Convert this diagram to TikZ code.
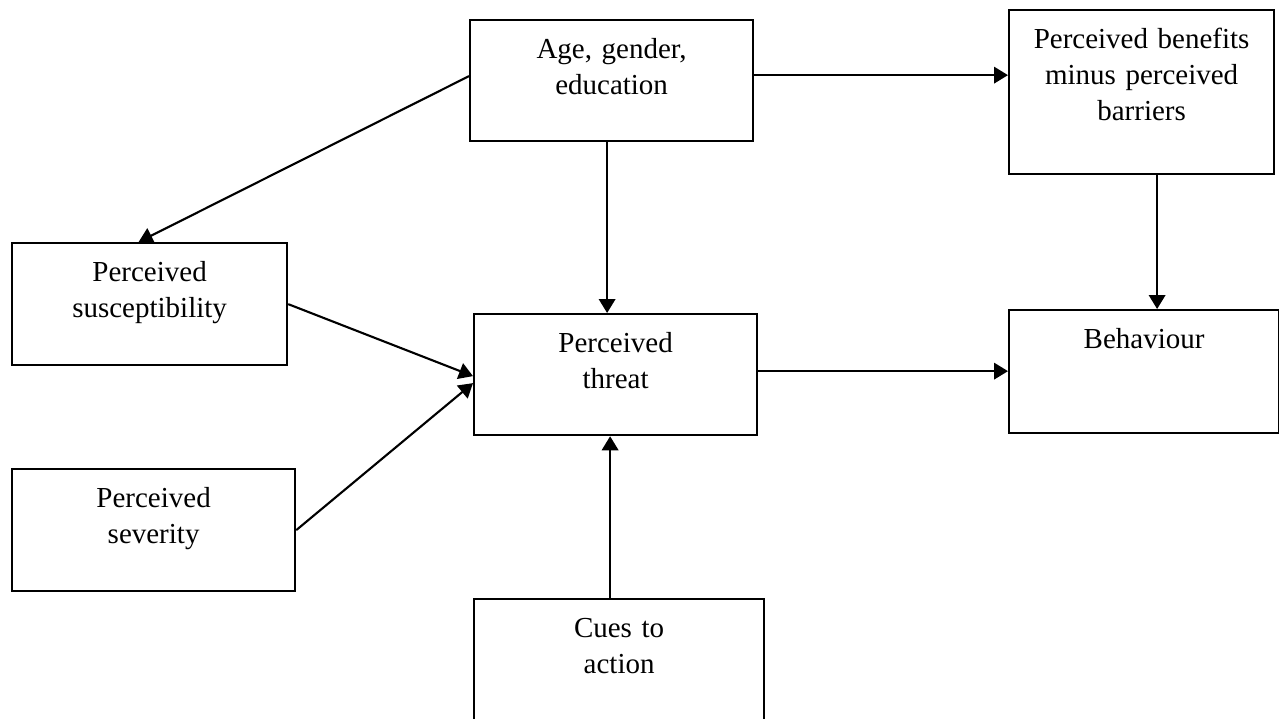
\documentclass[tikz,border=0pt]{standalone}
\usepackage{fontspec}
\setmainfont{Liberation Serif}
\usetikzlibrary{arrows.meta}

\begin{document}
\begin{tikzpicture}[x=0.02cm, y=-0.02cm]
      \useasboundingbox (0,0) rectangle (1279,718);
      \begin{scope}[every node/.style={draw, line width=1.3pt, inner sep=0pt, anchor=north west,
          align=center, text height=0.76cm, font=\fontsize{16.5}{20.5}\selectfont}]
        \node (age) [text width=5.66cm, text depth=1.66cm] at (469,19) {Age, gender,\\ education};
        \node (benefit) [text width=5.30cm, text depth=2.52cm] at (1008,9) {Perceived benefits\\ minus perceived\\ barriers};
        \node (suscept) [text width=5.50cm, text depth=1.68cm] at (11,242) {Perceived\\ susceptibility};
        \node (threat) [text width=5.66cm, text depth=1.66cm] at (473,313) {Perceived\\ threat};
        \node (behav) [text width=5.40cm, text depth=1.70cm] at (1008,309) {Behaviour};
        \node (severe) [text width=5.66cm, text depth=1.68cm] at (11,468) {Perceived\\ severity};
        \node (cues) [text width=5.80cm, text depth=1.76cm] at (473,598) {Cues to\\ action};
      \end{scope}
      \begin{scope}
        [every edge/.style={draw= black, line width=1.2pt, -{Triangle[length=0.28cm, width=0.33cm]}}]
        \path ([yshift=0.09cm]age.west) edge ([xshift=-0.22cm]suscept.north);
        \path ([xshift=-0.09cm]age.south) edge ([xshift=-0.09cm]age.south |- threat.north);
        \path ([yshift=0.11cm]age.east) edge ([yshift=0.11cm]age.east -| benefit.west);
        \path ([xshift=0.31cm]benefit.south) edge ([xshift=0.31cm]benefit.south |- behav.north);
        \path (suscept.east) edge ([yshift=-0.03cm]threat.west);
        \path (severe.east) edge ([yshift=-0.17cm]threat.west);
        \path ([xshift=-0.18cm]cues.north) edge ([xshift=-0.18cm]cues.north |- threat.south);
        \path ([yshift=0.07cm]threat.east) edge ([yshift=0.07cm]threat.east -| behav.west);
      \end{scope}
    \end{tikzpicture}
\end{document}
